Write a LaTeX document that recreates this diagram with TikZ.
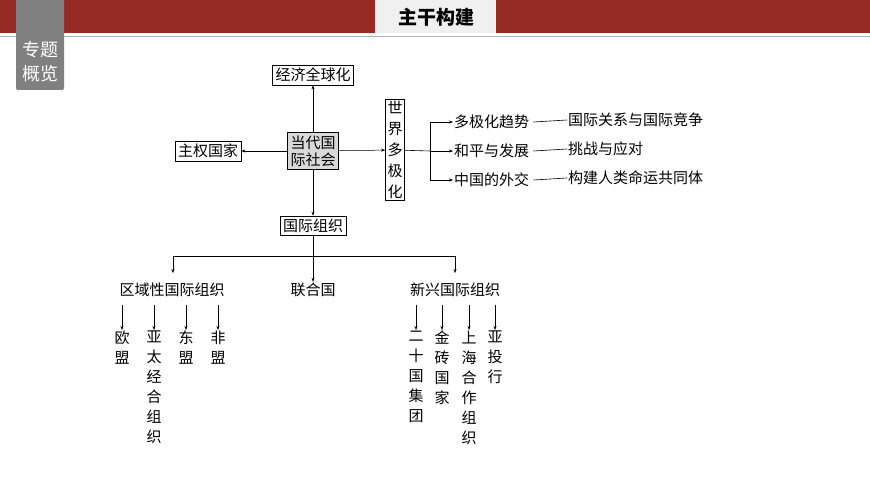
\documentclass[tikz,border=0pt]{standalone}
\usepackage{fontspec}
\setmainfont{Noto Sans CJK SC}
\usetikzlibrary{arrows.meta}
\definecolor{bar}{HTML}{962A25}
\tikzset{
 box/.style={draw=black,line width=0.8pt,inner sep=3pt,font=\fontsize{15}{17}\selectfont},
 txt/.style={inner sep=1pt,font=\fontsize{15}{17}\selectfont},
 vt/.style={inner sep=1pt,anchor=north,font=\fontsize{15}{20}\selectfont,align=center},
 arr/.style={-{Stealth[length=4pt,width=3pt]},line width=0.5pt},
 ln/.style={line width=0.6pt}
}
\begin{document}
\begin{tikzpicture}[x=1pt,y=-1pt]
\useasboundingbox (0,0) rectangle (870,489);
\fill[white] (0,0) rectangle (870,489);
\fill[bar] (0,0) rectangle (870,33);
\fill[gray!12] (375,0) rectangle (496,33);
\draw[gray!60,line width=1pt] (0,37) -- (870,37);
\node[txt,font=\fontsize{19}{21}\selectfont\bfseries] (title) at (436,17) {主干构建};
\fill[gray!120!black,rounded corners=2pt,fill=gray] (16,-3) rectangle (64,90);
\node[txt,text=white,align=center,font=\fontsize{18}{24}\selectfont] (tab) at (40,62) {专题\\概览};

\node[box,fill=gray!30,align=center] (c) at (313,151) {当代国\\际社会};
\node[box] (g) at (313,75) {经济全球化};
\node[box] (s) at (208,151) {主权国家};
\node[box] (o) at (313,226) {国际组织};
\node[box,align=center,font=\fontsize{15}{21}\selectfont,inner sep=2pt] (w) at (395,150) {世\\界\\多\\极\\化};
\draw[arr] (c) -- (g);
\draw[arr] (c) -- (s);
\draw[arr] (c) -- (o);
\draw[arr] (c) -- (w);

\node[txt,anchor=west] (a1) at (453,122) {多极化趋势};
\node[txt,anchor=west] (a2) at (453,151) {和平与发展};
\node[txt,anchor=west] (a3) at (453,180) {中国的外交};
\coordinate (br) at (430,151);
\draw[ln] (w) -- (br);
\draw[ln] (430,122) -- (430,180);
\draw[arr] (430,122) -- (a1.west);
\draw[arr] (430,151) -- (a2.west);
\draw[arr] (430,180) -- (a3.west);
\node[txt,anchor=west] (b1) at (567,120) {国际关系与国际竞争};
\node[txt,anchor=west] (b2) at (567,149) {挑战与应对};
\node[txt,anchor=west] (b3) at (567,178) {构建人类命运共同体};
\draw[ln] (a1.east)+(3,0) -- (b1.west);
\draw[ln] (a2.east)+(3,0) -- (b2.west);
\draw[ln] (a3.east)+(3,0) -- (b3.west);

\node[txt] (r) at (172,290) {区域性国际组织};
\node[txt] (u) at (313,290) {联合国};
\node[txt] (n) at (455,290) {新兴国际组织};
\coordinate (t) at (313,256);
\draw[ln] (o) -- (t);
\draw[ln] (173,256) -- (455,256);
\draw[arr] (173,256) -- (173,273);
\draw[arr] (t) -- (u);
\draw[arr] (455,256) -- (455,273);

\foreach \x/\s in {122/欧\\盟, 154/亚\\太\\经\\合\\组\\织, 186/东\\盟, 218/非\\盟}{
  \node[vt] (v\x) at (\x,330) {\s};
  \draw[arr] (\x,305) -- (v\x.north);
}
\foreach \x/\s in {416/二\\十\\国\\集\\团, 442/金\\砖\\国\\家, 469/上\\海\\合\\作\\组\\织, 495/亚\\投\\行}{
  \node[vt] (v\x) at (\x,330) {\s};
  \draw[arr] (\x,305) -- (v\x.north);
}
\end{tikzpicture}
\end{document}
